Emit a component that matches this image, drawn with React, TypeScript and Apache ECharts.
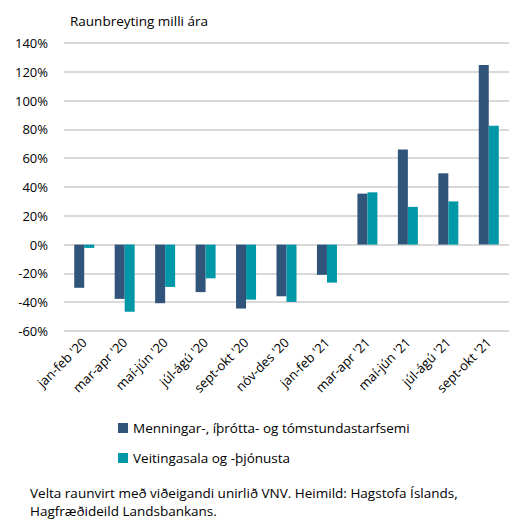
import React, { useEffect, useRef } from "react";
import * as echarts from "echarts";

const categories = ["jan-feb '20", "mar-apr '20", "maí-jún '20", "júl-ágú '20", "sept-okt '20", "nóv-des '20", "jan-feb '21", "mar-apr '21", "maí-jún '21", "júl-ágú '21", "sept-okt '21"];
const menning = [-30, -37.7, -40.7, -33, -44.4, -35.9, -21, 35.4, 66, 49.5, 124.8];
const veitinga = [-2.3, -46.7, -29.4, -23.4, -38.2, -39.8, -26.4, 36.3, 26.2, 30, 82.6];
const seriesNames = ["Menningar-, íþrótta- og tómstundastarfsemi", "Veitingasala og -þjónusta"];
const titleText = "Raunbreyting milli ára";
const footerLines = ["Velta raunvirt með viðeigandi unirlið VNV. Heimild: Hagstofa Íslands,", "Hagfræðideild Landsbankans."];

const FONT = "Open Sans";

export default function App() {
  const ref = useRef<HTMLDivElement>(null);
  useEffect(() => {
    const chart = echarts.init(ref.current!, null, { renderer: "svg" });
    chart.setOption({
      animation: false,
      textStyle: { fontFamily: FONT, color: "#000" },
      title: {
        text: titleText,
        left: 65,
        top: 9,
        textStyle: { fontSize: 13.5, fontWeight: "normal", color: "#000", fontFamily: FONT },
      },
      grid: { left: 64, right: 2, top: 43, bottom: 191 },
      legend: {
        orient: "vertical",
        left: 118,
        top: 421,
        padding: 0,
        itemWidth: 10,
        itemHeight: 10,
        itemGap: 16,
        icon: "rect",
        textStyle: { fontSize: 13.5, lineHeight: 14, color: "#000", fontFamily: FONT },
        data: seriesNames,
      },
      xAxis: {
        type: "category",
        data: categories,
        axisLine: { show: false },
        axisTick: { show: false },
        axisLabel: { rotate: 45, fontSize: 13, color: "#000", margin: 9, interval: 0, fontFamily: FONT },
      },
      yAxis: {
        type: "value",
        min: -60,
        max: 140,
        interval: 20,
        axisLabel: { formatter: "{value}%", fontSize: 13, color: "#000", margin: 16, fontFamily: FONT },
        splitLine: { lineStyle: { color: "#D9D9D9", width: 2 } },
        axisLine: { show: false },
        axisTick: { show: false },
      },
      series: [
        {
          name: seriesNames[0],
          type: "bar",
          data: menning,
          barWidth: 10,
          barGap: "0%",
          itemStyle: { color: "#31557A" },
        },
        {
          name: seriesNames[1],
          type: "bar",
          data: veitinga,
          barWidth: 10,
          barGap: "0%",
          itemStyle: { color: "#0097A7" },
        },
      ],
      graphic: [
        { type: "text", left: 30, top: 486, style: { text: footerLines[0], fontSize: 13.5, fill: "#000", fontFamily: FONT } },
        { type: "text", left: 30, top: 504, style: { text: footerLines[1], fontSize: 13.5, fill: "#000", fontFamily: FONT } },
      ],
    });
    return () => chart.dispose();
  }, []);
  return <div ref={ref} style={{ width: 511, height: 522, position: "absolute", left: 0, top: 0 }} />;
}
